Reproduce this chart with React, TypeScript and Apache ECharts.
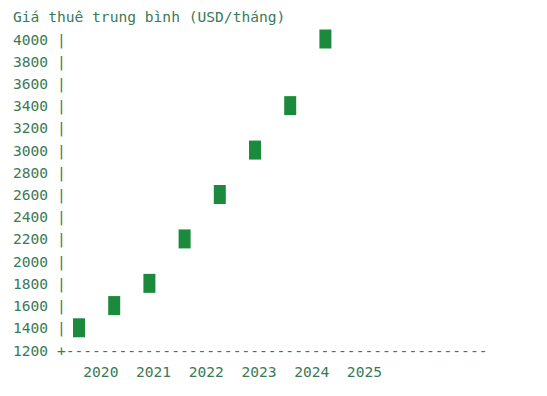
import React, { useEffect, useRef } from "react";
import * as echarts from "echarts";

const title = "Giá thuê trung bình (USD/tháng)";
const periods = ["1", "2", "3", "4", "5", "6", "7", "8"];
const rents = [1400, 1600, 1800, 2200, 2600, 3000, 3400, 4000];
const yearLabels = ["2020", "2021", "2022", "2023", "2024", "2025"];
const yMin = 1200;
const yMax = 4000;
const yStep = 200;

const FONT = "'DejaVu Sans Mono', 'Liberation Mono', monospace";
const FS = 14.6;
const TEXT = "#3b7a56";
const BLOCK = "#1c8a3d";

export default function App() {
  const ref = useRef<HTMLDivElement>(null);
  useEffect(() => {
    if (!ref.current) return;
    const chart = echarts.init(ref.current, null, { renderer: "svg" });
    const dashLine = "+" + "-".repeat(48);
    const xLine = "        " + yearLabels.join("  ");
    chart.setOption({
      animation: false,
      backgroundColor: "#ffffff",
      title: {
        text: title,
        left: 5,
        top: 1,
        padding: 0,
        textStyle: { fontFamily: FONT, fontSize: FS, fontWeight: "normal", color: TEXT },
      },
      grid: { left: 53.4, width: 281.6, top: 31, bottom: 38 },
      xAxis: {
        type: "category",
        data: periods,
        boundaryGap: true,
        axisLine: { show: false },
        axisTick: { show: false },
        axisLabel: { show: false },
        splitLine: { show: false },
      },
      yAxis: {
        type: "value",
        min: yMin,
        max: yMax,
        interval: yStep,
        axisLine: { show: false },
        axisTick: { show: false },
        splitLine: { show: false },
        axisLabel: {
          align: "left",
          margin: 48.4,
          fontFamily: FONT,
          fontSize: FS,
          color: TEXT,
          formatter: (v: number) => (v === yMin ? `${v} ${dashLine}` : `${v} |`),
        },
      },
      graphic: [
        {
          type: "text",
          left: 5,
          top: 356,
          style: { text: xLine, font: `${FS}px ${FONT}`, fill: TEXT },
        },
      ],
      series: [
        {
          type: "scatter",
          data: rents,
          symbol: "rect",
          symbolSize: [12, 19],
          itemStyle: { color: BLOCK, opacity: 1 },
        },
      ],
    });
    return () => chart.dispose();
  }, []);
  return <div ref={ref} style={{ width: 531, height: 380 }} />;
}
